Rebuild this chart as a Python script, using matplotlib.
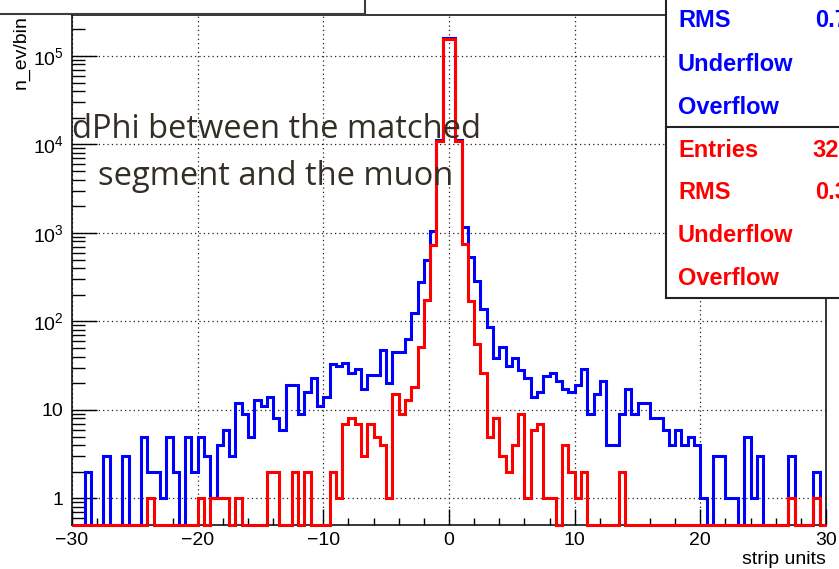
import numpy as np
import matplotlib.pyplot as plt
from matplotlib.patches import Rectangle
from matplotlib.ticker import FixedLocator, FuncFormatter, LogLocator, MultipleLocator, NullFormatter

W, H = 839, 569

# 120 bins of 0.5 strip units between -30 and 30
edges = np.linspace(-30, 30, 121)

blue_counts = [
    0, 0, 2, 0, 0, 3, 0, 0, 3, 0,
    0, 5, 2, 2, 1, 5, 2, 0, 5, 2,
    5, 3, 1, 4, 6, 3, 12, 9, 5, 13,
    11, 14, 8, 6, 19, 19, 9, 16, 23, 11,
    14, 33, 31, 34, 26, 29, 17, 25, 25, 47,
    20, 45, 45, 64, 123, 276, 490, 1060, 11200, 158000,
    158000, 11200, 1180, 540, 284, 137, 87, 39, 51, 31,
    39, 28, 23, 14, 16, 24, 26, 21, 17, 16,
    19, 29, 9, 15, 21, 4, 4, 9, 17, 9,
    12, 12, 8, 8, 6, 4, 6, 4, 5, 4,
    1, 0, 3, 3, 1, 1, 0, 5, 1, 3,
    0, 0, 0, 0, 3, 0, 0, 0, 2, 0,
]

red_counts = [
    0, 0, 0, 0, 0, 0, 0, 0, 0, 0,
    0, 0, 1, 0, 0, 0, 0, 0, 0, 0,
    1, 0, 1, 1, 1, 0, 1, 0, 0, 0,
    0, 2, 2, 0, 0, 2, 0, 2, 0, 0,
    0, 2, 1, 7, 8, 7, 3, 7, 5, 4,
    1, 15, 9, 13, 18, 52, 176, 730, 10800, 155000,
    155000, 10800, 750, 168, 56, 26, 5, 8, 3, 2,
    4, 9, 1, 6, 7, 1, 1, 0, 4, 2,
    1, 2, 0, 0, 0, 0, 0, 2, 0, 0,
    0, 0, 0, 0, 0, 0, 0, 0, 0, 0,
    0, 0, 0, 0, 0, 0, 0, 0, 0, 0,
    0, 0, 0, 0, 1, 0, 0, 0, 1, 0,
]

x_ticks = [-30, -20, -10, 0, 10, 20, 30]
y_ticks = [1, 10, 100, 1000, 10000, 100000]

blue_stats = [("RMS", "0.7"), ("Underflow", ""), ("Overflow", "")]
red_stats = [("Entries", "32"), ("RMS", "0.3"), ("Underflow", ""), ("Overflow", "")]

plt.rcParams['font.family'] = ['Liberation Sans', 'DejaVu Sans']
plt.rcParams['mathtext.default'] = 'regular'


def px(x, y):
    # pixel position (from top-left) -> figure fraction
    return x / W, 1 - y / H


fig = plt.figure(figsize=(W / 100, H / 100), dpi=100)
ax = fig.add_axes([72 / W, 1 - 525 / H, (826 - 72) / W, (525 - 15) / H])

ymin = 0.5
blue = np.array(blue_counts, float)
red = np.array(red_counts, float)
ax.stairs(np.where(blue > 0, blue, ymin), edges, baseline=None,
          color='#0000ff', lw=2.2, clip_on=False, zorder=3)
ax.stairs(np.where(red > 0, red, ymin), edges, baseline=None,
          color='#ff0000', lw=2.2, clip_on=False, zorder=4)

ax.set_yscale('log')
ax.set_xlim(-30, 30)
ax.set_ylim(ymin, 2.9e5)

ax.xaxis.set_major_locator(FixedLocator(x_ticks))
ax.xaxis.set_minor_locator(MultipleLocator(2))
ax.yaxis.set_major_locator(FixedLocator(y_ticks))
ax.yaxis.set_minor_locator(LogLocator(base=10, subs=np.arange(2, 10), numticks=30))
ax.yaxis.set_minor_formatter(NullFormatter())


def ylab(v, pos):
    if v < 1.5:
        return '1'
    if v < 15:
        return '10'
    return r'$10^{%d}$' % round(np.log10(v))


ax.yaxis.set_major_formatter(FuncFormatter(ylab))

ax.tick_params(which='both', direction='in', top=False, right=False, color='black')
ax.tick_params(axis='x', which='major', length=11.5, width=1, labelsize=14, pad=5)
ax.tick_params(axis='x', which='minor', length=5, width=1)
ax.tick_params(axis='y', which='major', length=18, width=1, labelsize=14, pad=6)
ax.tick_params(axis='y', which='minor', length=9.4, width=1)

ax.grid(True, which='major', color='#222222', linestyle=(0, (1, 2.5)), lw=0.9)
for s in ax.spines.values():
    s.set_linewidth(1.1)
    s.set_color('black')

fig.text(*px(21, 15), 'n_ev/bin', rotation=90, ha='center', va='top', fontsize=14)
fig.text(*px(826, 560), 'strip units', ha='right', va='center', fontsize=14)

# overlaid caption
cap = dict(family=['Open Sans', 'DejaVu Sans'], fontsize=23.5, color='#342f24',
           ha='center', va='baseline', zorder=10)
fig.text(*px(276, 138), 'dPhi between the matched', **cap)
fig.text(*px(276, 185), 'segment and the muon', **cap)

# title box (cut off at the top)
x0, y0 = px(-5, 13.5)
fig.add_artist(Rectangle((x0, y0), 370 / W, 20 / H, facecolor='white',
                         edgecolor='#3c3c3c', lw=1.5, zorder=8))

# stats boxes (cut off at the right)
bx, by = px(665.5, 298)
fig.add_artist(Rectangle((bx, by), 200 / W, 310 / H, facecolor='white',
                         edgecolor='#222222', lw=1.5, zorder=8))
fig.add_artist(plt.Line2D([bx, 1.05], [1 - 127 / H] * 2, color='#222222', lw=1.5, zorder=9))

for (lab, val), yb in zip(blue_stats, [27.3, 70.7, 114]):
    fig.text(*px(678, yb), lab, color='#0000ff', fontsize=17, weight='bold', va='baseline', zorder=10)
    if val:
        fig.text(*px(815, yb), val, color='#0000ff', fontsize=17, weight='bold', va='baseline', zorder=10)
for (lab, val), yb in zip(red_stats, [157.3, 199.3, 242.3, 285]):
    fig.text(*px(678, yb), lab, color='#ff0000', fontsize=17, weight='bold', va='baseline', zorder=10)
    if val:
        xv = 812.7 if lab == 'Entries' else 815
        fig.text(*px(xv, yb), val, color='#ff0000', fontsize=17, weight='bold', va='baseline', zorder=10)

fig.savefig('out.png', dpi=100)
